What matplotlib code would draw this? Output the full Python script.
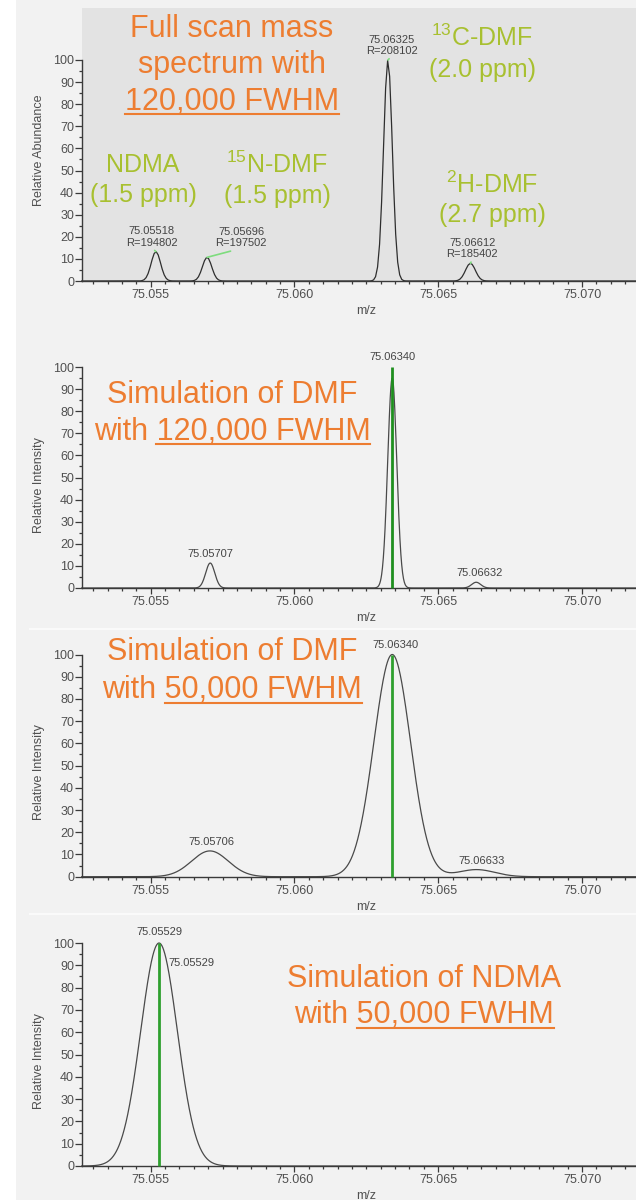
import numpy as np
import matplotlib
matplotlib.use("Agg")
import matplotlib.pyplot as plt
from matplotlib.patches import Rectangle
from matplotlib.lines import Line2D
from matplotlib.ticker import FixedLocator, MultipleLocator

plt.rcParams['font.family'] = ['Liberation Sans', 'DejaVu Sans']
plt.rcParams['mathtext.fontset'] = 'custom'
plt.rcParams['mathtext.rm'] = 'Liberation Sans'
plt.rcParams['mathtext.it'] = 'Liberation Sans:italic'
plt.rcParams['mathtext.bf'] = 'Liberation Sans:bold'

# ---------------- data ----------------
mz_ticks = [75.055, 75.060, 75.065, 75.070]
mz_range = (75.0526, 75.0724)
y_ticks = [0, 10, 20, 30, 40, 50, 60, 70, 80, 90, 100]

# Panel 1: measured full-scan spectrum
p1_mz = [75.05518, 75.05696, 75.06325, 75.06612]
p1_int = [13.3, 10.7, 100.0, 8.0]
p1_res = [194802, 197502, 208102, 185402]
p1_names = [r"NDMA", r"$\mathregular{^{15}}$N-DMF", r"$\mathregular{^{13}}$C-DMF", r"$\mathregular{^{2}}$H-DMF"]
p1_ppm = ["(1.5 ppm)", "(1.5 ppm)", "(2.0 ppm)", "(2.7 ppm)"]

# Panel 2: simulation of DMF, 120,000 FWHM
p2_mz = [75.05707, 75.06340, 75.06632]
p2_int = [11.3, 95.0, 2.6]
p2_fwhm = 0.00037
p2_stick_mz = [75.06340]
p2_stick_int = [100.0]

# Panel 3: simulation of DMF, 50,000 FWHM
p3_mz = [75.05706, 75.06340, 75.06633]
p3_int = [11.6, 100.0, 3.2]
p3_fwhm = 0.0015
p3_stick_mz = [75.06340]
p3_stick_int = [100.0]

# Panel 4: simulation of NDMA, 50,000 FWHM
p4_mz = [75.05529]
p4_int = [100.0]
p4_fwhm = 0.0015
p4_stick_mz = [75.05529]
p4_stick_int = [100.0]

# ---------------- style ----------------
W, H = 636, 1200
BG = '#f2f2f2'
ORANGE = '#ED7D31'
LIME = '#a8c030'
TXT = '#444444'
AX = '#3a3a3a'
GREEN = '#2ea02e'

fig = plt.figure(figsize=(W / 100, H / 100), dpi=100, facecolor=BG)
fig.patches.append(Rectangle((0, 0), 16 / W, 1, transform=fig.transFigure,
                             facecolor='white', edgecolor='none', zorder=-10))
fig.patches.append(Rectangle((82 / W, 1 - 281 / H), 1 - 82 / W, (281 - 8) / H,
                             transform=fig.transFigure, facecolor='#e3e3e3',
                             edgecolor='none', zorder=-9))
for yy in (629, 914):
    fig.add_artist(Line2D([30 / W, 1], [1 - yy / H] * 2, transform=fig.transFigure,
                          color='#fafafa', lw=1.5, zorder=-8))


def gauss_profile(x, centers, heights, fwhms):
    y = np.zeros_like(x)
    for c, h, f in zip(centers, heights, fwhms):
        s = f / (2 * np.sqrt(2 * np.log(2)))
        y += h * np.exp(-0.5 * ((x - c) / s) ** 2)
    return y


def make_ax(top_px, bot_px, ylabel, ylab_frac):
    ax = fig.add_axes([81.7 / W, 1 - bot_px / H, (651 - 81.7) / W, (bot_px - top_px) / H])
    ax.set_facecolor('none')
    ax.set_xlim(*mz_range)
    ax.set_ylim(0, 100)
    for s in ('top', 'right'):
        ax.spines[s].set_visible(False)
    for s in ('left', 'bottom'):
        ax.spines[s].set_color(AX)
        ax.spines[s].set_linewidth(1.0)
    ax.xaxis.set_major_locator(FixedLocator(mz_ticks))
    ax.set_xticklabels([f"{t:.3f}" for t in mz_ticks])
    ax.xaxis.set_minor_locator(MultipleLocator(0.0005))
    ax.yaxis.set_major_locator(FixedLocator(y_ticks))
    ax.yaxis.set_minor_locator(MultipleLocator(5))
    ax.tick_params(axis='x', which='major', length=4.5, width=0.9, pad=1.5,
                   labelsize=9, color=AX, labelcolor='#505050')
    ax.tick_params(axis='x', which='minor', length=2.5, width=0.9, color=AX)
    ax.tick_params(axis='y', which='major', length=5, width=0.9, pad=0.5,
                   labelsize=9, color=AX, labelcolor='#505050')
    ax.tick_params(axis='y', which='minor', length=2.5, width=0.9, color=AX)
    hpx = bot_px - top_px
    ax.set_xlabel('m/z', fontsize=9, color='#505050')
    ax.xaxis.set_label_coords(0.5, -24 / hpx)
    ax.set_ylabel(ylabel, fontsize=9, color='#505050')
    ax.yaxis.set_label_coords(-0.065, ylab_frac)
    return ax


def pts(px):
    return px * 0.72


# ---------- Panel 1 ----------
ax1 = make_ax(60, 281, 'Relative Abundance', 0.593)
x1 = np.arange(mz_range[0], mz_range[1], 0.00007)
f1 = [m / r for m, r in zip(p1_mz, p1_res)]
ax1.plot(x1, gauss_profile(x1, p1_mz, p1_int, f1), color='#2e2e2e', lw=0.9, clip_on=False)
p1_off = [(-4, 4), (34, 9), (4, 4), (2, 4)]
for m, h, r, (dx, dy) in zip(p1_mz, p1_int, p1_res, p1_off):
    ax1.annotate(f"{m:.5f}\nR={r}", xy=(m, h), xytext=(pts(dx), pts(dy)),
                 textcoords='offset points', ha='center', va='bottom', fontsize=8,
                 color=TXT, linespacing=1.15, annotation_clip=False,
                 arrowprops=dict(arrowstyle='-', color='#7ddc7d', lw=1.2,
                                 shrinkA=0, shrinkB=0, relpos=(0.5, 0)))

# ---------- Panel 2 ----------
ax2 = make_ax(367, 588, 'Relative Intensity', 0.466)
xf = np.arange(mz_range[0], mz_range[1], 0.00001)
ax2.plot(xf, gauss_profile(xf, p2_mz, p2_int, [p2_fwhm] * len(p2_mz)),
         color='#4a4a4a', lw=0.9, clip_on=False)
ax2.vlines(p2_stick_mz, 0, p2_stick_int, color='#1f8f1f', lw=2.0, clip_on=False, zorder=3)
p2_lab_y = [p2_int[0], p2_stick_int[0], p2_int[2]]
p2_off = [(0, 4), (0, 5), (3, 4)]
for m, h, (dx, dy) in zip(p2_mz, p2_lab_y, p2_off):
    ax2.annotate(f"{m:.5f}", xy=(m, h), xytext=(pts(dx), pts(dy)), textcoords='offset points',
                 ha='center', va='bottom', fontsize=8, color=TXT, annotation_clip=False)

# ---------- Panel 3 ----------
ax3 = make_ax(654.5, 876.7, 'Relative Intensity', 0.47)
ax3.plot(xf, gauss_profile(xf, p3_mz, p3_int, [p3_fwhm] * len(p3_mz)),
         color='#4a4a4a', lw=0.9, clip_on=False)
ax3.vlines(p3_stick_mz, 0, p3_stick_int, color=GREEN, lw=2.0, clip_on=False, zorder=3)
p3_lab_y = [p3_int[0], p3_stick_int[0], p3_int[2]]
p3_off = [(1, 4), (3, 5), (5, 4)]
for m, h, (dx, dy) in zip(p3_mz, p3_lab_y, p3_off):
    ax3.annotate(f"{m:.5f}", xy=(m, h), xytext=(pts(dx), pts(dy)), textcoords='offset points',
                 ha='center', va='bottom', fontsize=8, color=TXT, annotation_clip=False)

# ---------- Panel 4 ----------
ax4 = make_ax(943, 1166, 'Relative Intensity', 0.47)
ax4.plot(xf, gauss_profile(xf, p4_mz, p4_int, [p4_fwhm] * len(p4_mz)),
         color='#4a4a4a', lw=0.9, clip_on=False)
ax4.vlines(p4_stick_mz, 0, p4_stick_int, color=GREEN, lw=2.0, clip_on=False, zorder=3)
ax4.annotate(f"{p4_mz[0]:.5f}", xy=(p4_mz[0], p4_int[0]), xytext=(0, pts(6)),
             textcoords='offset points', ha='center', va='bottom', fontsize=8,
             color=TXT, annotation_clip=False)
ax4.annotate(f"{p4_stick_mz[0]:.5f}", xy=(p4_stick_mz[0], p4_stick_int[0]),
             xytext=(pts(9), pts(-20)), textcoords='offset points', ha='left',
             va='center', fontsize=8, color=TXT, annotation_clip=False)

# ---------- figure texts ----------
def ftext(x, y, s, **kw):
    return fig.text(x / W, 1 - y / H, s, **kw)

# lime species labels (panel 1)
lime_pos = [(143, 172, 202), (277, 173, 203), (482, 46, 77), (492, 193, 222)]
for name, ppm, (cx, b1, b2) in zip(p1_names, p1_ppm, lime_pos):
    ftext(cx, b1, name, ha='center', va='baseline', fontsize=18, color=LIME)
    ftext(cx, b2, ppm, ha='center', va='baseline', fontsize=18, color=LIME)

renderer = fig.canvas.get_renderer()


def orange_block(cx, lines, baselines, underline_part, underline_y, size=22):
    last = None
    for s, b in zip(lines, baselines):
        last = ftext(cx, b, s, ha='center', va='baseline', fontsize=size, color=ORANGE)
    bb = last.get_window_extent(renderer)
    tmp = fig.text(0, 0, underline_part, fontsize=size)
    wpart = tmp.get_window_extent(renderer).width
    tmp.remove()
    x1 = bb.x1
    x0 = x1 - wpart
    yy = 1 - underline_y / H
    fig.add_artist(Line2D([x0 / W, x1 / W], [yy, yy], transform=fig.transFigure,
                          color=ORANGE, lw=1.5))


orange_block(232, ["Full scan mass", "spectrum with", "120,000 FWHM"], [37, 73, 110],
             "120,000 FWHM", 114)
orange_block(232, ["Simulation of DMF", "with 120,000 FWHM"], [403, 440],
             "120,000 FWHM", 444.5)
orange_block(232, ["Simulation of DMF", "with 50,000 FWHM"], [660, 698],
             "50,000 FWHM", 703)
orange_block(424, ["Simulation of NDMA", "with 50,000 FWHM"], [987, 1023],
             "50,000 FWHM", 1027.5)

fig.savefig('out.png', dpi=100, facecolor=BG)
